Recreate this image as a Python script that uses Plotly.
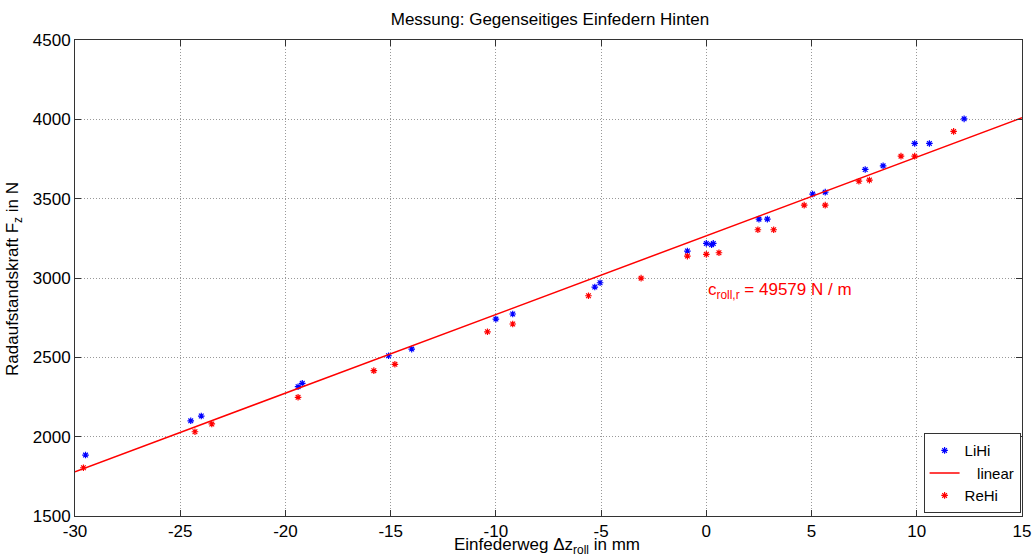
import plotly.graph_objects as go

# LiHi (blue) measurements: deflection in mm, force in N
lihi_x = [-29.5, -24.5, -24.0, -19.4, -19.2, -15.1, -14.0, -10.0, -9.2, -5.3, -5.05,
          -0.9, 0.0, 0.25, 0.33, 2.5, 2.9, 5.05, 5.65, 7.55, 8.4, 9.9, 10.6, 12.25]
lihi_y = [1884, 2100, 2130, 2315, 2336, 2510, 2552, 2741, 2773, 2943, 2970,
          3170, 3218, 3210, 3218, 3371, 3371, 3529, 3541, 3684, 3707, 3848, 3848, 4003]

# ReHi (red) measurements
rehi_x = [-29.6, -24.3, -23.5, -19.4, -15.8, -14.8, -10.4, -9.2, -5.6, -3.1,
          -0.9, 0.0, 0.6, 2.45, 3.2, 4.65, 5.65, 7.25, 7.75, 9.25, 9.9, 11.75]
rehi_y = [1804, 2031, 2080, 2248, 2416, 2456, 2661, 2710, 2888, 2999,
          3138, 3149, 3159, 3304, 3304, 3459, 3459, 3610, 3617, 3768, 3768, 3924]

# linear fit
fit_slope = 49.579   # N/mm
fit_intercept = 3266  # N
fit_x = [-30, 15]
fit_y = [fit_intercept + fit_slope * v for v in fit_x]

x_ticks = [-30, -25, -20, -15, -10, -5, 0, 5, 10, 15]
x_ticktext = ["-30", "-25", "-20", "-15", "-10", "-5", "0", "5", "10", "15"]
y_ticks = [1500, 2000, 2500, 3000, 3500, 4000, 4500]
y_ticktext = ["1500", "2000", "2500", "3000", "3500", "4000", "4500"]

FONT = "Liberation Sans, Arial, sans-serif"

fig = go.Figure()
fig.add_trace(go.Scatter(x=lihi_x, y=lihi_y, mode="markers", name="LiHi",
                         marker=dict(symbol="asterisk-open", size=5.5, color="#0000FF",
                                     line=dict(width=1.2, color="#0000FF"))))
fig.add_trace(go.Scatter(x=fit_x, y=fit_y, mode="lines", name="   linear",
                         line=dict(color="#FF0000", width=1.5)))
fig.add_trace(go.Scatter(x=rehi_x, y=rehi_y, mode="markers", name="ReHi",
                         marker=dict(symbol="asterisk-open", size=5.5, color="#FF0000",
                                     line=dict(width=1.2, color="#FF0000"))))

fig.add_annotation(x=0.0, y=2915, xref="x", yref="y", xanchor="left", yanchor="middle",
                   text="c<sub>roll,r</sub> = 49579 N / m", showarrow=False,
                   font=dict(family=FONT, size=17, color="#FF0000"))

# axis titles as positioned annotations (paper coords relative to plot area)
fig.add_annotation(x=0.498, y=-0.064, xref="paper", yref="paper", showarrow=False,
                   xanchor="center", yanchor="middle",
                   text="Einfederweg Δz<sub>roll</sub> in mm",
                   font=dict(family=FONT, size=17, color="black"))
fig.add_annotation(x=-0.0644, y=0.498, xref="paper", yref="paper", showarrow=False,
                   xanchor="center", yanchor="middle",
                   text="Radaufstandskraft F<sub>z</sub> in N", textangle=-90,
                   font=dict(family=FONT, size=17, color="black"))

axis_common = dict(showline=True, linecolor="#333333", linewidth=1, mirror="ticks",
                   ticks="inside", ticklen=6, tickcolor="#333333",
                   showgrid=True, gridcolor="#999999", griddash="1px,2px", gridwidth=1,
                   zeroline=False, automargin=False,
                   tickfont=dict(family=FONT, size=17, color="black"))

fig.update_layout(
    width=1035, height=556,
    margin=dict(l=75, r=13, t=40, b=40),
    paper_bgcolor="white", plot_bgcolor="white",
    title=dict(text="Messung: Gegenseitiges Einfedern Hinten", x=0.5314, xanchor="center",
               y=0.965, yanchor="middle", font=dict(family=FONT, size=17, color="black")),
    xaxis=dict(range=[-30, 15], tickvals=x_ticks, ticktext=x_ticktext, **axis_common),
    yaxis=dict(range=[1500, 4500], tickvals=y_ticks, ticktext=y_ticktext, **axis_common),
    legend=dict(x=0.9985, y=0.006, xanchor="right", yanchor="bottom",
                bgcolor="white", bordercolor="#333333", borderwidth=1,
                font=dict(family=FONT, size=15, color="black"),
                itemwidth=30, tracegroupgap=0),
    showlegend=True,
)

fig.write_html("out.html")
